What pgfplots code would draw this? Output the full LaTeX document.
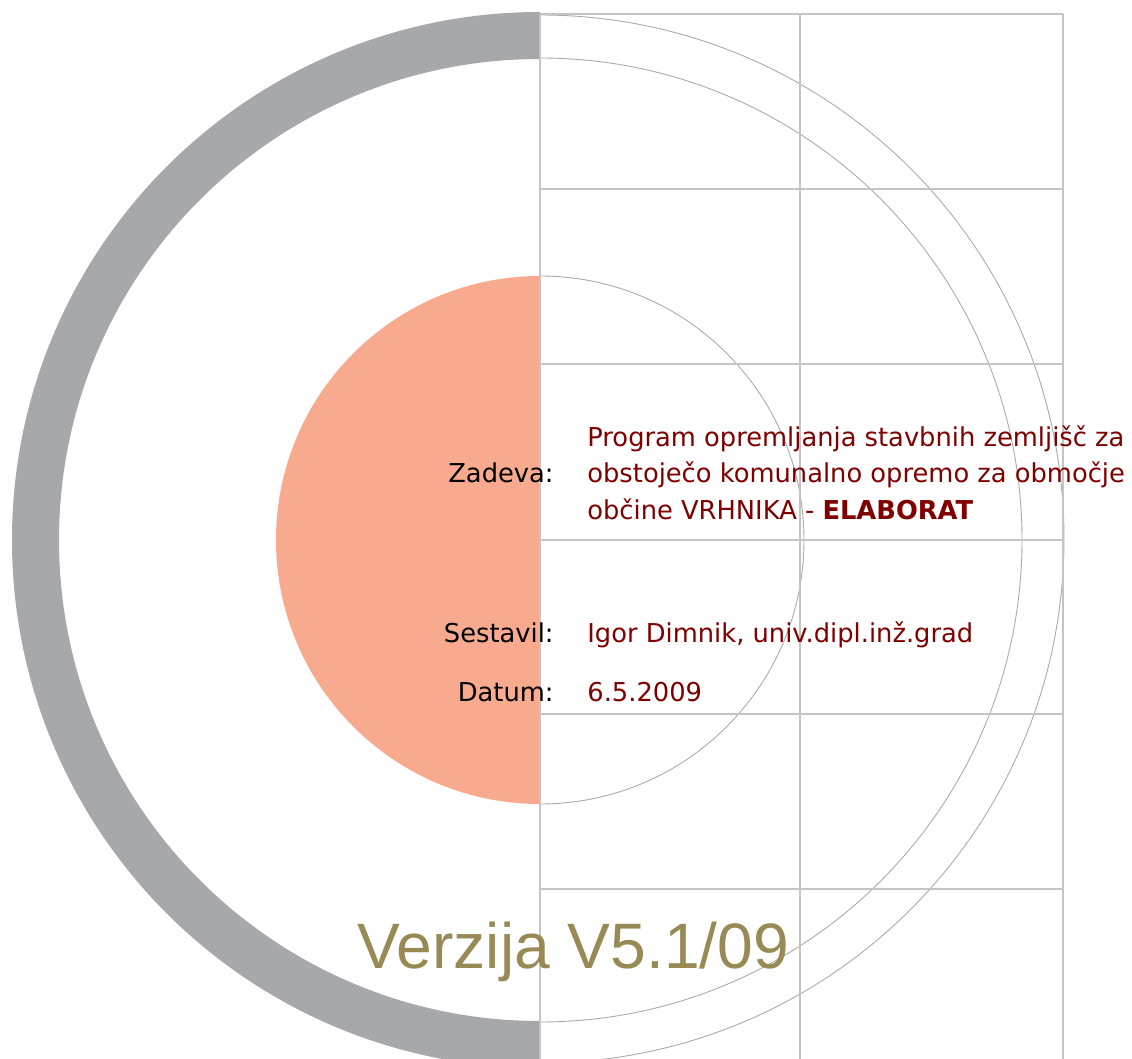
\documentclass[border=0pt]{standalone}
\usepackage{pgfplots}
\pgfplotsset{compat=1.18}
\usepackage{fontspec}
\setmainfont{DejaVu Sans}[FakeStretch=0.99]
\newfontfamily\arialfont{Liberation Sans}
\definecolor{ringgray}{HTML}{A7A8AC}
\definecolor{salmon}{HTML}{F8AA8E}
\definecolor{maroon}{HTML}{800000}
\definecolor{olive}{HTML}{978A55}
\definecolor{gridc}{HTML}{C4C4C4}
\definecolor{circc}{HTML}{ABABAB}
\begin{document}
\begin{tikzpicture}
\begin{axis}[
  name=main,
  x=0.5pt, y=0.5pt, y dir=reverse,
  xmin=0, xmax=1132, ymin=0, ymax=1059,
  hide axis,
  gridline/.style={color=gridc, line width=0.7pt, no markers},
]
% gray half ring (left)
\fill[ringgray] (axis cs:540,12) arc[start angle=90, end angle=270, radius=264pt]
   -- (axis cs:540,1021) arc[start angle=270, end angle=90, radius=240.5pt] -- cycle;
% salmon half disc (left)
\fill[salmon] (axis cs:540,276) arc[start angle=90, end angle=270, radius=132pt] -- cycle;
% thin circles, right halves
\draw[circc, line width=0.45pt] (axis cs:540,276) arc[start angle=90, end angle=-90, radius=132pt];
\draw[circc, line width=0.45pt] (axis cs:540,58) arc[start angle=90, end angle=-90, radius=241pt];
\draw[circc, line width=0.45pt] (axis cs:540,15) arc[start angle=90, end angle=-90, radius=262pt];
% grid
\addplot[gridline] coordinates {(540,14) (540,1059)};
\addplot[gridline] coordinates {(800,14) (800,1059)};
\addplot[gridline] coordinates {(1063,14) (1063,1059)};
\addplot[gridline] coordinates {(540,14) (1063,14)};
\addplot[gridline] coordinates {(540,189) (1063,189)};
\addplot[gridline] coordinates {(540,364) (1063,364)};
\addplot[gridline] coordinates {(540,540) (1063,540)};
\addplot[gridline] coordinates {(540,714) (1063,714)};
\addplot[gridline] coordinates {(540,889) (1063,889)};
% texts
\node[anchor=base east, inner sep=0pt, font=\fontsize{13pt}{16pt}\selectfont] at (axis cs:554,483) {Zadeva:};
\node[anchor=base east, inner sep=0pt, font=\fontsize{13pt}{16pt}\selectfont] at (axis cs:554,643) {Sestavil:};
\node[anchor=base east, inner sep=0pt, font=\fontsize{13pt}{16pt}\selectfont] at (axis cs:554,702) {Datum:};
\node[anchor=base west, inner sep=0pt, text=maroon, font=\fontsize{13pt}{16pt}\selectfont] at (axis cs:587,447) {Program opremljanja stavbnih zemljišč za};
\node[anchor=base west, inner sep=0pt, text=maroon, font=\fontsize{13pt}{16pt}\selectfont] at (axis cs:587,483) {obstoječo komunalno opremo za območje};
\node[anchor=base west, inner sep=0pt, text=maroon, font=\fontsize{13pt}{16pt}\selectfont] at (axis cs:587,520) {občine VRHNIKA - \textbf{ELABORAT}};
\node[anchor=base west, inner sep=0pt, text=maroon, font=\fontsize{13pt}{16pt}\selectfont] at (axis cs:587,643) {Igor Dimnik, univ.dipl.inž.grad};
\node[anchor=base west, inner sep=0pt, text=maroon, font=\fontsize{13pt}{16pt}\selectfont] at (axis cs:587,702) {6.5.2009};
\node[anchor=base west, inner sep=0pt, text=olive, font=\arialfont\fontsize{32.1pt}{36pt}\selectfont] at (axis cs:357,968) {Verzija V5.1/09};
\end{axis}
\pgfresetboundingbox
\useasboundingbox (main.south west) rectangle (main.north east);
\end{tikzpicture}
\end{document}
